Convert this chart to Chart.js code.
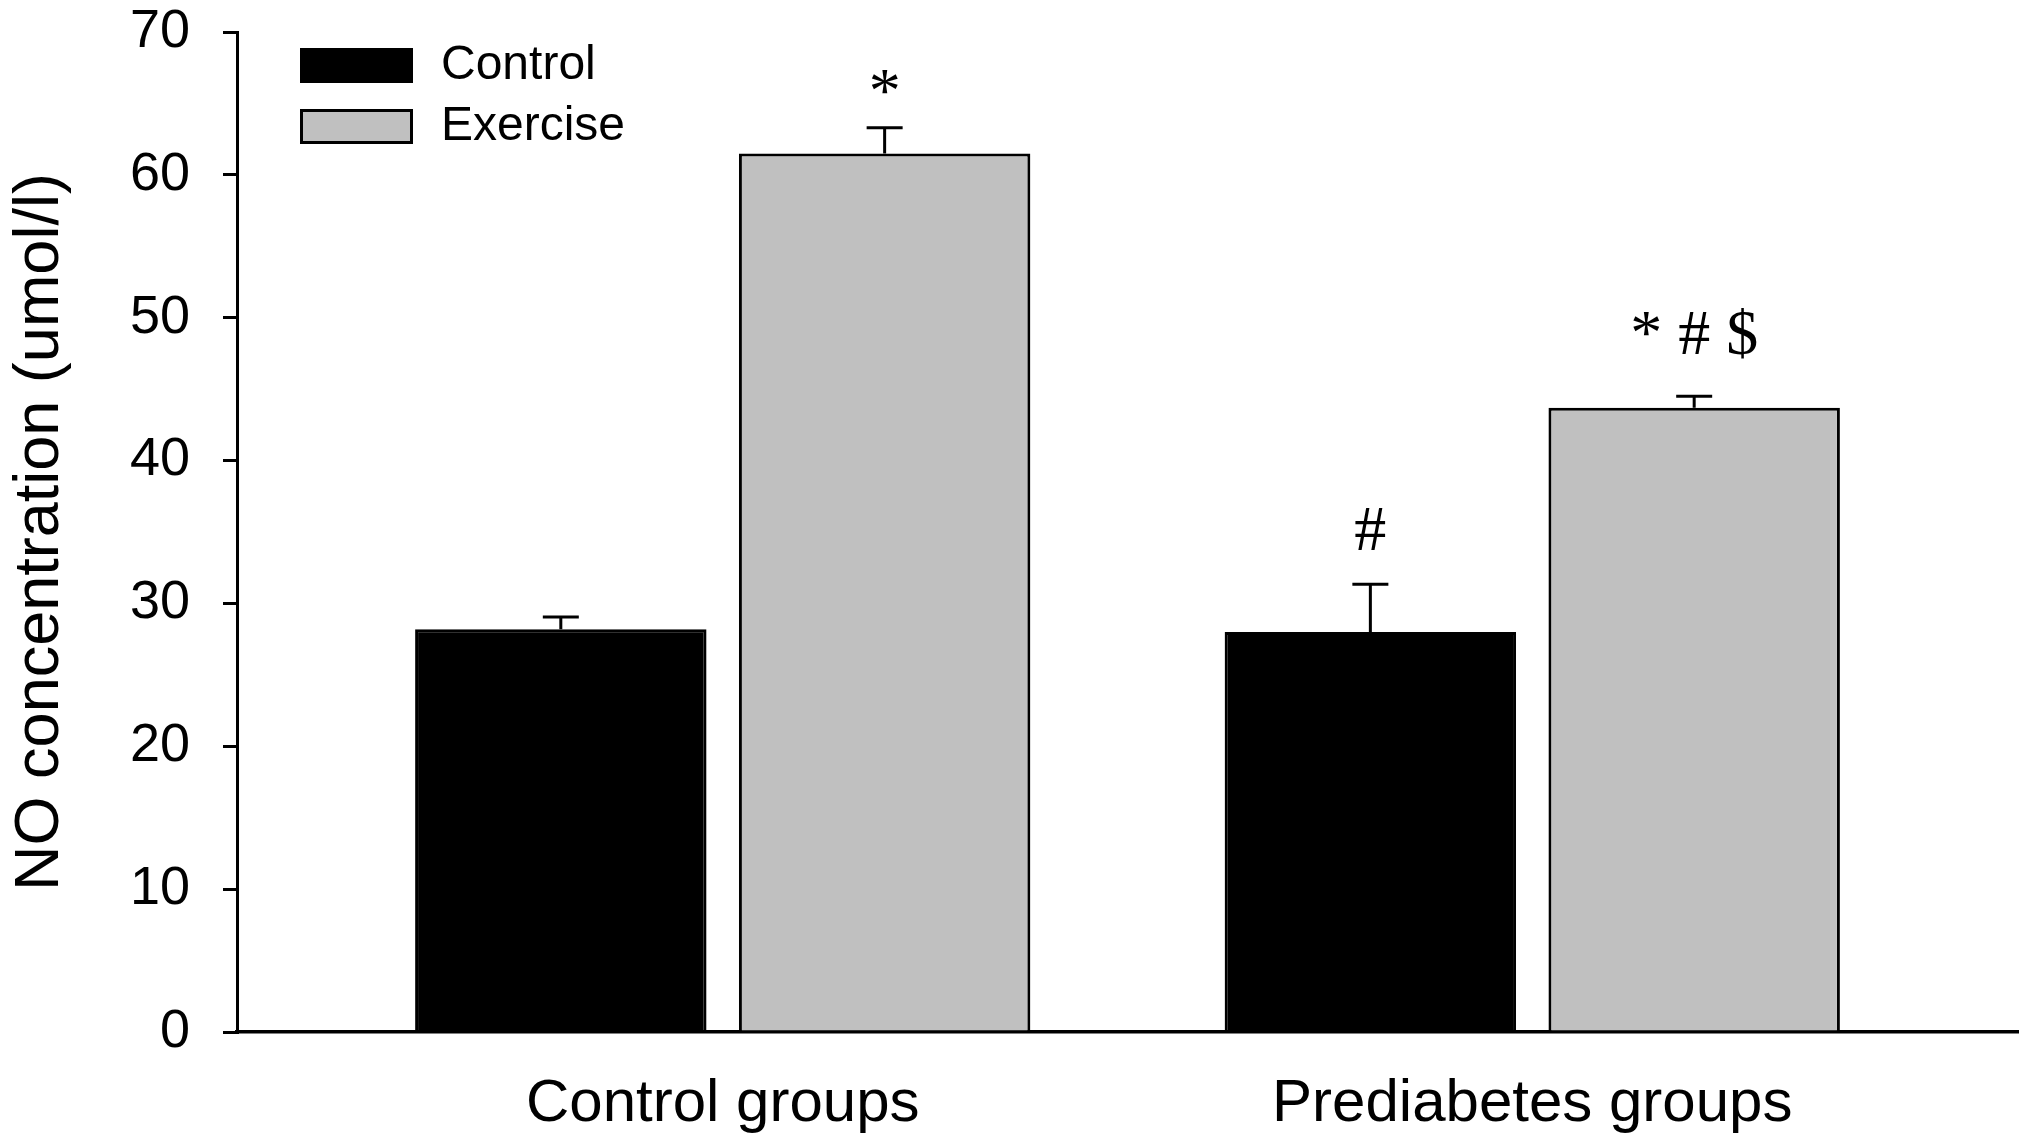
<!DOCTYPE html>
<html>
<head>
<meta charset="utf-8">
<script src="https://cdn.jsdelivr.net/npm/chart.js@4.4.1/dist/chart.umd.min.js"></script>
<style>
  html, body { margin: 0; padding: 0; background: #fff; }
  #wrap { width: 2031px; height: 1147px; position: relative; }
</style>
</head>
<body>
<div id="wrap"><canvas id="noChart"></canvas></div>
<script>
// values
const categories = ['Control groups', 'Prediabetes groups'];
const seriesNames = ['Control', 'Exercise'];
const controlValues = [28.2, 28.0];
const controlErrors = [0.85, 3.35];
const exerciseValues = [61.5, 43.7];
const exerciseErrors = [1.8, 0.8];
const controlMarks = ['', '#'];
const exerciseMarks = ['*', '* # $'];
const yMin = 0, yMax = 70, yStep = 10;

// gap (px) between error cap and the baseline of each mark
const markGaps = [[0, 34], [16, 42]];

Chart.defaults.font.family = '"Liberation Sans", Arial, sans-serif';
Chart.defaults.color = '#000';

const errorBars = {
    id: 'errorBars',
    afterDatasetsDraw(chart) {
        const { ctx, scales: { y } } = chart;
        ctx.save();
        ctx.strokeStyle = '#000';
        ctx.lineWidth = 3;
        chart.data.datasets.forEach((ds, i) => {
            const meta = chart.getDatasetMeta(i);
            meta.data.forEach((bar, j) => {
                const top = y.getPixelForValue(ds.data[j].y + ds.errors[j]);
                ctx.beginPath();
                ctx.moveTo(bar.x, bar.y);
                ctx.lineTo(bar.x, top);
                ctx.moveTo(bar.x - 18, top);
                ctx.lineTo(bar.x + 18, top);
                ctx.stroke();
                const mark = ds.marks[j];
                if (mark) {
                    ctx.fillStyle = '#000';
                    ctx.font = '64px "Liberation Serif", "Times New Roman", serif';
                    ctx.textAlign = 'center';
                    ctx.textBaseline = 'alphabetic';
                    ctx.fillText(mark, bar.x, top - markGaps[i][j]);
                }
            });
        });
        ctx.restore();
    }
};

const boxLegend = {
    id: 'boxLegend',
    afterDraw(chart) {
        const { ctx, chartArea } = chart;
        const x0 = chartArea.left + 63;
        ctx.save();
        chart.data.datasets.forEach((ds, i) => {
            const top = chartArea.top + 16 + i * 61;
            ctx.fillStyle = ds.backgroundColor;
            ctx.fillRect(x0, top, 113, 35);
            ctx.strokeStyle = '#000';
            ctx.lineWidth = 3;
            ctx.strokeRect(x0 + 1.5, top + 1.5, 110, 32);
            ctx.fillStyle = '#000';
            ctx.font = '48px "Liberation Sans", Arial, sans-serif';
            ctx.textAlign = 'left';
            ctx.textBaseline = 'middle';
            ctx.fillText(ds.label, x0 + 141, top + 18);
        });
        ctx.restore();
    }
};

new Chart(document.getElementById('noChart'), {
    type: 'bar',
    data: {
        datasets: [
            {
                label: seriesNames[0],
                data: controlValues.map((v, i) => ({ x: i + 1, y: v })),
                errors: controlErrors,
                marks: controlMarks,
                backgroundColor: '#000000',
                borderColor: '#000000',
                borderWidth: 3,
            },
            {
                label: seriesNames[1],
                data: exerciseValues.map((v, i) => ({ x: i + 1, y: v })),
                errors: exerciseErrors,
                marks: exerciseMarks,
                backgroundColor: '#c0c0c0',
                borderColor: '#000000',
                borderWidth: 3,
            },
        ],
    },
    options: {
        responsive: true,
        maintainAspectRatio: false,
        animation: false,
        layout: { padding: { top: 0, right: 13, bottom: 0, left: 0 } },
        plugins: {
            legend: { display: false },
            tooltip: { enabled: false },
        },
        scales: {
            x: {
                type: 'linear',
                min: 0.4,
                max: 2.6,
                offset: false,
                afterBuildTicks: (axis) => {
                    axis.ticks = categories.map((c, i) => ({ value: i + 1 }));
                },
                afterFit: (axis) => { axis.height = 115; },
                grid: { display: false, drawTicks: false },
                border: { display: true, color: '#000', width: 3.5 },
                ticks: {
                    padding: 36,
                    maxRotation: 0,
                    autoSkip: false,
                    font: { size: 60 },
                    callback: (v) => categories[v - 1] || '',
                },
            },
            y: {
                min: yMin,
                max: yMax,
                afterFit: (axis) => {
                    axis.width = 237;
                    axis.paddingTop = 32;
                    axis.paddingBottom = 0;
                },
                grid: {
                    display: true,
                    drawOnChartArea: false,
                    drawTicks: true,
                    tickLength: 14,
                    color: '#000',
                    lineWidth: 3,
                },
                border: { display: true, color: '#000', width: 3 },
                ticks: {
                    stepSize: yStep,
                    padding: 33,
                    font: { size: 54 },
                },
                title: {
                    display: true,
                    text: 'NO concentration (umol/l)',
                    font: { size: 63 },
                    padding: { top: 3, bottom: 0 },
                },
            },
        },
    },
    plugins: [errorBars, boxLegend],
});
</script>
</body>
</html>
